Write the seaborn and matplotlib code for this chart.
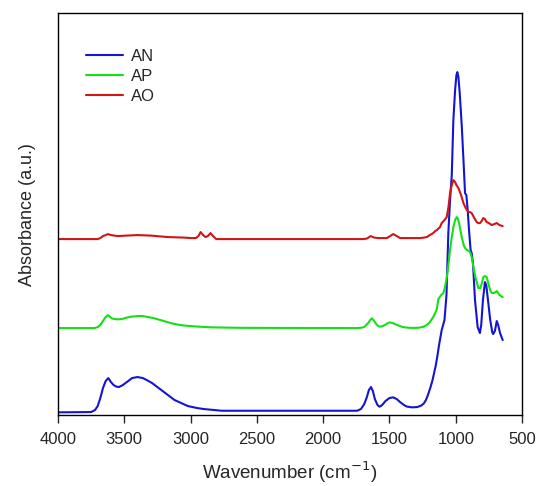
import pandas as pd
import matplotlib
matplotlib.use("Agg")
import matplotlib.pyplot as plt
import seaborn as sns

# spectra (wavenumber, absorbance a.u.)
an_wn = [4000, 3750, 3720, 3700, 3680, 3660, 3640, 3620, 3600, 3580, 3560, 3540, 3510, 3480,
         3440, 3400, 3360, 3330, 3290, 3250, 3210, 3180, 3150, 3120, 3070, 3020, 2950, 2900,
         2763, 2000, 1744, 1715, 1690, 1670, 1655, 1639, 1625, 1610, 1590, 1575, 1555, 1530,
         1500, 1473, 1445, 1420, 1390, 1370, 1330, 1290, 1260, 1240, 1225, 1210, 1190, 1175,
         1150, 1135, 1126, 1106, 1085, 1070, 1056, 1043, 1030, 1018, 1005, 995, 988, 980,
         970, 955, 940, 930, 920, 910, 900, 888, 880, 870, 855, 835, 818, 808, 795, 780,
         770, 757, 740, 725, 718, 705, 691, 680, 666, 646]
an_ab = [0.027, 0.03, 0.05, 0.09, 0.17, 0.27, 0.34, 0.37, 0.33, 0.30, 0.285, 0.28, 0.30, 0.33,
         0.37, 0.38, 0.37, 0.35, 0.32, 0.28, 0.24, 0.21, 0.18, 0.15, 0.12, 0.09, 0.07, 0.06,
         0.043, 0.043, 0.043, 0.06, 0.11, 0.18, 0.25, 0.28, 0.24, 0.16, 0.10, 0.083, 0.10, 0.14,
         0.17, 0.177, 0.16, 0.13, 0.10, 0.085, 0.077, 0.08, 0.095, 0.117, 0.15, 0.20, 0.28, 0.35,
         0.50, 0.62, 0.70, 0.85, 0.95, 1.20, 1.82, 2.15, 2.40, 2.95, 3.25, 3.40, 3.43, 3.38,
         3.22, 2.90, 2.50, 2.22, 2.20, 2.05, 1.85, 1.65, 1.62, 1.52, 1.15, 0.88, 0.82, 0.90, 1.15, 1.33,
         1.30, 1.15, 0.95, 0.83, 0.81, 0.84, 0.94, 0.90, 0.82, 0.75]

ap_wn = [4000, 3723, 3700, 3680, 3660, 3640, 3623, 3605, 3590, 3570, 3547, 3520, 3480, 3440,
         3397, 3360, 3320, 3280, 3246, 3200, 3150, 3100, 3045, 2950, 2843, 2600, 1750, 1720,
         1690, 1660, 1645, 1634, 1620, 1600, 1585, 1571, 1550, 1530, 1510, 1496, 1475, 1450,
         1420, 1400, 1370, 1345, 1300, 1269, 1240, 1219, 1195, 1170, 1155, 1143, 1131, 1110,
         1094, 1081, 1070, 1060, 1043, 1030, 1018, 1005, 993, 985, 975, 965, 955, 940, 930,
         915, 900, 892, 880, 867, 850, 830, 815, 805, 792, 780, 767, 755, 741, 728, 715, 700,
         691, 680, 670, 646]
ap_ab = [0.87, 0.87, 0.88, 0.90, 0.94, 0.98, 1.00, 0.98, 0.965, 0.96, 0.957, 0.96, 0.975, 0.985,
         0.99, 0.99, 0.98, 0.97, 0.957, 0.94, 0.92, 0.905, 0.895, 0.885, 0.877, 0.872, 0.87, 0.872,
         0.88, 0.92, 0.95, 0.967, 0.95, 0.91, 0.89, 0.883, 0.89, 0.905, 0.92, 0.927, 0.92, 0.905,
         0.89, 0.88, 0.875, 0.872, 0.872, 0.875, 0.885, 0.90, 0.93, 0.98, 1.02, 1.06, 1.16, 1.20,
         1.22, 1.28, 1.36, 1.45, 1.65, 1.78, 1.88, 1.95, 1.98, 1.97, 1.92, 1.85, 1.78, 1.70, 1.67,
         1.65, 1.64, 1.63, 1.58, 1.48, 1.37, 1.27, 1.27, 1.31, 1.38, 1.39, 1.38, 1.32, 1.25, 1.22,
         1.22, 1.23, 1.24, 1.22, 1.20, 1.18]

ao_wn = [4000, 3700, 3680, 3660, 3640, 3623, 3600, 3550, 3480, 3400, 3300, 3170, 3050, 2994,
         2960, 2940, 2924, 2905, 2886, 2870, 2849, 2830, 2806, 2500, 1700, 1670, 1641, 1615,
         1583, 1520, 1495, 1471, 1445, 1420, 1370, 1269, 1240, 1219, 1195, 1170, 1155, 1143,
         1119, 1106, 1085, 1068, 1055, 1043, 1030, 1018, 1005, 995, 980, 960, 942, 925, 905,
         892, 880, 860, 842, 830, 817, 805, 792, 780, 767, 750, 729, 710, 691, 670, 646]
ao_ab = [1.76, 1.76, 1.77, 1.79, 1.80, 1.81, 1.80, 1.79, 1.795, 1.80, 1.795, 1.78, 1.775, 1.77,
         1.77, 1.79, 1.83, 1.80, 1.78, 1.79, 1.82, 1.79, 1.76, 1.76, 1.76, 1.765, 1.79, 1.775,
         1.77, 1.77, 1.79, 1.81, 1.79, 1.77, 1.77, 1.77, 1.775, 1.78, 1.80, 1.82, 1.84, 1.85,
         1.88, 1.92, 1.95, 1.98, 2.08, 2.22, 2.30, 2.35, 2.33, 2.30, 2.27, 2.20, 2.12, 2.07, 2.03,
         2.03, 2.02, 1.97, 1.93, 1.92, 1.92, 1.94, 1.97, 1.96, 1.93, 1.92, 1.90, 1.91, 1.92, 1.90, 1.89]

names = ["AN", "AP", "AO"]
colors = ["#1414d2", "#14e014", "#d21414"]

df = pd.concat([
    pd.DataFrame({"wn": an_wn, "ab": an_ab, "sample": "AN"}),
    pd.DataFrame({"wn": ap_wn, "ab": ap_ab, "sample": "AP"}),
    pd.DataFrame({"wn": ao_wn, "ab": ao_ab, "sample": "AO"}),
])

sns.set_style("ticks")
plt.rcParams["font.family"] = ["Liberation Sans", "DejaVu Sans"]

fig = plt.figure(figsize=(5.36, 4.86), dpi=100)
ax = fig.add_axes([0.108, 0.146, 0.866, 0.827])

sns.lineplot(data=df, x="wn", y="ab", hue="sample", hue_order=names,
             palette=colors, sort=False, estimator=None, linewidth=1.5, ax=ax)

ax.set_xlim(4000, 500)
ax.set_ylim(0, 4.02)
ax.set_xticks(range(4000, 499, -500))
ax.set_yticks([])
ax.tick_params(axis="x", direction="out", length=6, width=1, labelsize=12, pad=6)
for s in ax.spines.values():
    s.set_visible(True)
    s.set_linewidth(1)
    s.set_color("black")

ax.set_xlabel("Wavenumber (cm$^{-1}$)", fontsize=13.5, labelpad=9)
ax.set_ylabel("Absorbance (a.u.)", fontsize=13, labelpad=16)

ax.legend(loc="upper left", bbox_to_anchor=(0.046, 0.928), frameon=False, fontsize=12,
          handlelength=2.2, handletextpad=0.5, labelspacing=0.3, borderaxespad=0, title=None)

fig.savefig("out.png", dpi=100)
